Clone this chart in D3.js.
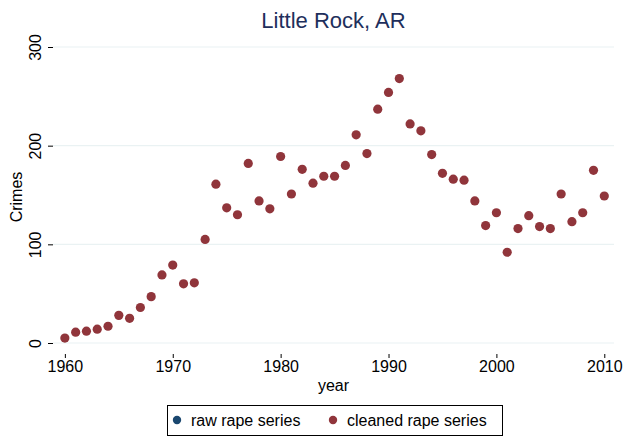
<!DOCTYPE html>
<html>
<head>
<meta charset="utf-8">
<script src="https://cdn.jsdelivr.net/npm/d3@7"></script>
<style>
  body { margin: 0; background: #fff; }
  text { font-family: "Liberation Sans", Arial, sans-serif; }
</style>
</head>
<body>
<svg id="chart"></svg>
<script>
const W = 625, H = 439;
const margin = { top: 47, right: 11, bottom: 96, left: 53 };

const years = d3.range(1960, 2011);
const cleaned = [5, 11, 12, 14, 17, 28, 25, 36, 47, 69,
  79, 60, 61, 105, 161, 137, 130, 182, 144, 136,
  189, 151, 176, 162, 169, 169, 180, 211, 192, 237,
  254, 268, 222, 215, 191, 172, 166, 165, 144, 119,
  132, 92, 116, 129, 118, 116, 151, 123, 132, 175,
  149];
const xTicks = [1960, 1970, 1980, 1990, 2000, 2010];
const yTicks = [0, 100, 200, 300];
const legendLabels = ["raw rape series", "cleaned rape series"];
const legendColors = ["#1a476f", "#90353b"];

const data = years.map((y, i) => ({ year: y, value: cleaned[i] }));

const svg = d3.select("#chart").attr("width", W).attr("height", H);

const x = d3.scaleLinear().domain([1958.9, 2010.9]).range([margin.left, W - margin.right]);
const y = d3.scaleLinear().domain([0, 300]).range([343, 47]);

// grid
svg.append("g")
  .selectAll("line")
  .data(yTicks)
  .join("line")
  .attr("x1", margin.left).attr("x2", W - margin.right)
  .attr("y1", d => y(d)).attr("y2", d => y(d))
  .attr("stroke", "#eaf2f3").attr("stroke-width", 1.2);

// y axis
const yAxis = svg.append("g")
  .attr("transform", `translate(${margin.left},0)`)
  .call(d3.axisLeft(y).tickValues(yTicks).tickSize(5).tickPadding(0));
yAxis.select(".domain").remove();
yAxis.selectAll(".tick line").attr("stroke", "#000");
yAxis.selectAll(".tick text")
  .attr("transform", d => `translate(-18,0) rotate(-90)`)
  .attr("x", 0).attr("y", 0).attr("dy", "0.35em")
  .attr("text-anchor", "middle")
  .style("font-size", "16px").attr("fill", "#000");

// x axis
const xAxis = svg.append("g")
  .attr("transform", `translate(0,354)`)
  .call(d3.axisBottom(x).tickValues(xTicks).tickFormat(d3.format("d")).tickSize(4).tickPadding(3));
xAxis.select(".domain").remove();
xAxis.selectAll(".tick line").attr("stroke", "#000");
xAxis.selectAll(".tick text").style("font-size", "16px").attr("fill", "#000");

// axis titles
svg.append("text")
  .attr("transform", "translate(16,197) rotate(-90)")
  .attr("text-anchor", "middle").attr("dy", "0.35em")
  .style("font-size", "16px").text("Crimes");
svg.append("text")
  .attr("x", (margin.left + W - margin.right) / 2).attr("y", 391)
  .attr("text-anchor", "middle")
  .style("font-size", "16px").text("year");

// title
svg.append("text")
  .attr("x", (margin.left + W - margin.right) / 2).attr("y", 28)
  .attr("text-anchor", "middle")
  .attr("fill", "#1e2f5c")
  .style("font-size", "22px").text("Little Rock, AR");

// points
svg.append("g")
  .selectAll("circle")
  .data(data)
  .join("circle")
  .attr("cx", d => x(d.year))
  .attr("cy", d => y(d.value))
  .attr("r", 4.6)
  .attr("fill", legendColors[1]);

// legend
const lg = svg.append("g");
lg.append("rect")
  .attr("x", 167.5).attr("y", 405.5).attr("width", 335).attr("height", 30)
  .attr("fill", "#fff").attr("stroke", "#000").attr("stroke-width", 1);
const itemX = [177, 333];
legendLabels.forEach((lab, i) => {
  lg.append("circle").attr("cx", itemX[i]).attr("cy", 420).attr("r", 4.2).attr("fill", legendColors[i]);
  lg.append("text").attr("x", itemX[i] + 14).attr("y", 420).attr("dy", "0.35em")
    .style("font-size", "16px").text(lab);
});
</script>
</body>
</html>
